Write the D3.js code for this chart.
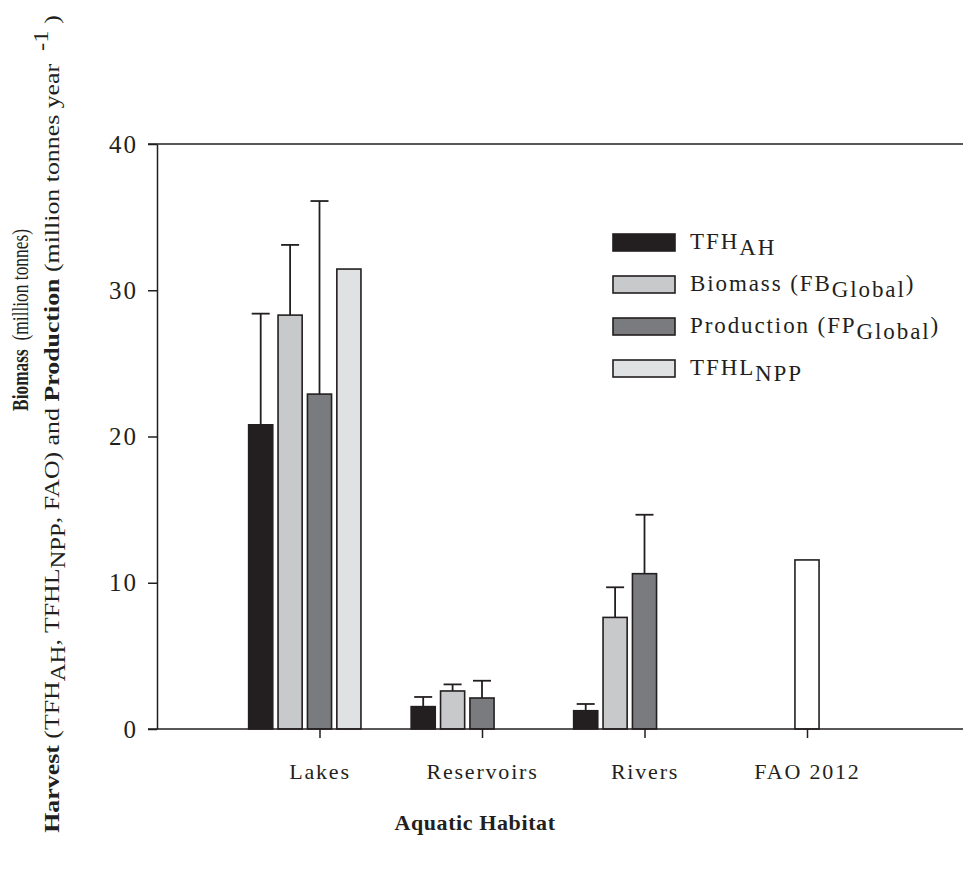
<!DOCTYPE html>
<html>
<head>
<meta charset="utf-8">
<script src="https://cdn.jsdelivr.net/npm/d3@7"></script>
<style>
  body { margin: 0; background: #fff; }
  text { font-family: "Liberation Serif", "Times New Roman", serif; fill: #231f20; }
</style>
</head>
<body>
<svg id="chart"></svg>
<script>
var w = 963;
var h = 871;

// data
var categories = ["Lakes", "Reservoirs", "Rivers", "FAO 2012"];
var tfhAH = [20.8, 1.53, 1.25, null];
var tfhAHErr = [7.6, 0.66, 0.46, null];
var biomass = [28.3, 2.6, 7.63, null];
var biomassErr = [4.8, 0.45, 2.06, null];
var production = [22.9, 2.12, 10.62, null];
var productionErr = [13.2, 1.18, 4.03, null];
var tfhlNPP = [31.45, null, null, null];
var fao = [null, null, null, 11.56];
var yTicks = [0, 10, 20, 30, 40];

var series = [
    {name: "tfh", values: tfhAH, err: tfhAHErr, fill: "#231f20", slot: 0},
    {name: "biomass", values: biomass, err: biomassErr, fill: "#c8c9cb", slot: 1},
    {name: "production", values: production, err: productionErr, fill: "#7a7b7f", slot: 2},
    {name: "npp", values: tfhlNPP, err: null, fill: "#e0e1e3", slot: 3},
    {name: "fao", values: fao, err: null, fill: "#ffffff", slot: 2}
];

var plotLeft = 157, plotTop = 144, plotBottom = 729;

var svg = d3.select("#chart")
    .attr("width", w)
    .attr("height", h);

var x = d3.scalePoint()
    .domain(categories)
    .range([plotLeft, 969.5])
    .padding(1);

var slot = d3.scaleBand()
    .domain(d3.range(5))
    .range([-73.5, 73.5])
    .paddingInner(0.18)
    .paddingOuter(0.09);

var y = d3.scaleLinear()
    .domain([0, 40])
    .range([plotBottom, plotTop]);

// top frame line
svg.append("line")
    .attr("x1", plotLeft - 9).attr("x2", w)
    .attr("y1", y(40)).attr("y2", y(40))
    .attr("stroke", "#231f20").attr("stroke-width", 1.5);

// bars
var bars = [];
series.forEach(function(s) {
    s.values.forEach(function(v, i) {
        if (v == null) return;
        bars.push({cat: categories[i], value: v, err: s.err ? s.err[i] : null, fill: s.fill, slot: s.slot});
    });
});

svg.selectAll("rect.bar")
    .data(bars)
    .enter()
    .append("rect")
    .attr("class", "bar")
    .attr("x", function(d) { return x(d.cat) + slot(d.slot); })
    .attr("width", slot.bandwidth())
    .attr("y", function(d) { return y(d.value); })
    .attr("height", function(d) { return y(0) - y(d.value); })
    .attr("fill", function(d) { return d.fill; })
    .attr("stroke", "#231f20")
    .attr("stroke-width", 1.6);

// error bars (upper only)
var errs = svg.selectAll("g.err")
    .data(bars.filter(function(d) { return d.err != null; }))
    .enter()
    .append("g")
    .attr("class", "err")
    .attr("transform", function(d) {
        return "translate(" + (x(d.cat) + slot(d.slot) + slot.bandwidth() / 2) + ",0)";
    });

errs.append("line")
    .attr("x1", 0).attr("x2", 0)
    .attr("y1", function(d) { return y(d.value); })
    .attr("y2", function(d) { return y(d.value + d.err); })
    .attr("stroke", "#231f20").attr("stroke-width", 1.8);

errs.append("line")
    .attr("x1", -9).attr("x2", 9)
    .attr("y1", function(d) { return y(d.value + d.err); })
    .attr("y2", function(d) { return y(d.value + d.err); })
    .attr("stroke", "#231f20").attr("stroke-width", 1.8);

// y axis
var yAxis = svg.append("g")
    .attr("transform", "translate(" + plotLeft + ",0)")
    .call(d3.axisLeft(y).tickValues(yTicks).tickSize(9).tickSizeOuter(0).tickPadding(10));
yAxis.select(".domain").attr("stroke", "#231f20").attr("stroke-width", 1.5);
yAxis.selectAll(".tick line").attr("stroke", "#231f20").attr("stroke-width", 1.5);
yAxis.selectAll(".tick text")
    .style("font-family", "Liberation Serif, serif")
    .style("font-size", "25px")
    .style("letter-spacing", "2px")
    .attr("fill", "#231f20");

// x axis
var xAxis = svg.append("g")
    .attr("transform", "translate(0," + plotBottom + ")")
    .call(d3.axisBottom(x).tickSize(9).tickSizeOuter(0).tickPadding(25));
xAxis.select(".domain").attr("d", "M" + (plotLeft - 9) + ",0H" + w)
    .attr("stroke", "#231f20").attr("stroke-width", 1.5);
xAxis.selectAll(".tick line").attr("stroke", "#231f20").attr("stroke-width", 1.5);
xAxis.selectAll(".tick text")
    .style("font-family", "Liberation Serif, serif")
    .style("font-size", "22px")
    .style("letter-spacing", "1.8px")
    .attr("fill", "#231f20");

// x title
svg.append("text")
    .attr("x", 475)
    .attr("y", 830)
    .attr("text-anchor", "middle")
    .style("font-size", "22px")
    .style("font-weight", "bold")
    .style("letter-spacing", "0.6px")
    .text("Aquatic Habitat");

// stretch a rotated title so it spans the given length
function fitRotated(t, cx, cy, len) {
    var wNow = t.node().getBBox().width;
    t.attr("transform", "translate(" + cx + "," + cy + ") rotate(-90) scale(" + (len / wNow) + ",1)");
}

// y title, two lines
var t1 = svg.append("text")
    .attr("text-anchor", "middle")
    .style("font-size", "24px");
t1.append("tspan").style("font-weight", "bold").text("Biomass");
t1.append("tspan").text("\u00a0\u00a0(million tonnes)");
fitRotated(t1, 28, 320, 182);

var t2 = svg.append("text")
    .attr("text-anchor", "middle")
    .style("font-size", "22px");
t2.append("tspan").style("font-weight", "bold").text("Harvest");
t2.append("tspan").text(" (TFH");
t2.append("tspan").attr("dy", 6).style("font-size", "21px").text("AH");
t2.append("tspan").attr("dy", -6).text(", TFHL");
t2.append("tspan").attr("dy", 6).style("font-size", "21px").text("NPP");
t2.append("tspan").attr("dy", -6).text(", FAO) and ");
t2.append("tspan").style("font-weight", "bold").text("Production");
t2.append("tspan").text(" (million tonnes year \u00a0");
t2.append("tspan").attr("dy", -11).style("font-size", "21px").text("-1");
t2.append("tspan").attr("dy", 11).text("\u00a0)");
fitRotated(t2, 59, 424, 818);

// legend
var legendItems = [
    {label: "TFH", sub: "AH", after: "", fill: "#231f20"},
    {label: "Biomass (FB", sub: "Global", after: ")", fill: "#c8c9cb"},
    {label: "Production (FP", sub: "Global", after: ")", fill: "#7a7b7f"},
    {label: "TFHL", sub: "NPP", after: "", fill: "#e0e1e3"}
];

var legend = svg.selectAll("g.legend")
    .data(legendItems)
    .enter()
    .append("g")
    .attr("class", "legend")
    .attr("transform", function(d, i) { return "translate(613," + (234 + i * 42) + ")"; });

legend.append("rect")
    .attr("width", 62)
    .attr("height", 17)
    .attr("fill", function(d) { return d.fill; })
    .attr("stroke", "#231f20")
    .attr("stroke-width", 1.6);

var lt = legend.append("text")
    .attr("x", 77)
    .attr("y", 15)
    .style("font-size", "23px")
    .style("letter-spacing", "1.9px");
lt.append("tspan").text(function(d) { return d.label; });
lt.append("tspan").attr("dy", 6).text(function(d) { return d.sub; });
lt.append("tspan").attr("dy", -6).text(function(d) { return d.after; });
</script>
</body>
</html>
